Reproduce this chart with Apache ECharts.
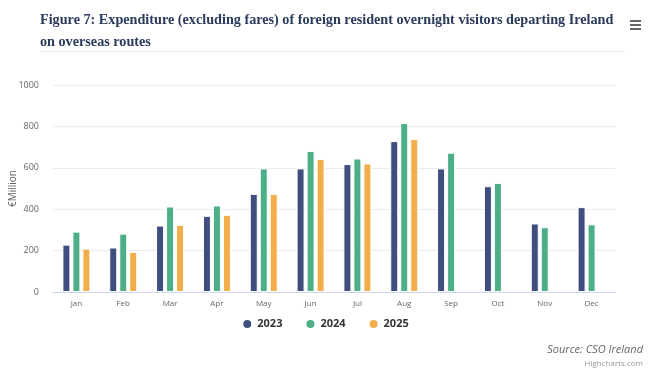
<!DOCTYPE html>
<html>
<head>
<meta charset="utf-8">
<script src="https://cdn.jsdelivr.net/npm/echarts@6/dist/echarts.min.js"></script>
<style>
  body { margin: 0; background: #fff; }
  #chart { width: 650px; height: 375px; }
</style>
</head>
<body>
<div id="chart"></div>
<script>
const months = ['Jan', 'Feb', 'Mar', 'Apr', 'May', 'Jun', 'Jul', 'Aug', 'Sep', 'Oct', 'Nov', 'Dec']
const y2023 = [229, 215, 321, 368, 474, 597, 618, 729, 597, 511, 331, 410]
const y2024 = [292, 282, 413, 418, 597, 681, 645, 816, 673, 527, 313, 327]
const y2025 = [210, 194, 324, 373, 474, 642, 621, 739, null, null, null, null]
const yTicks = [0, 200, 400, 600, 800, 1000]

const colors = ['#3f4e7f', '#4daf88', '#f2ae4a']

function barSeries(name, data, color) {
  return {
    name: name,
    type: 'bar',
    data: data,
    barWidth: 8,
    barGap: '25%',
    itemStyle: { color: color, borderColor: '#fff', borderWidth: 1 }
  }
}

const chart = echarts.init(document.getElementById('chart'))
chart.setOption({
  animation: false,
  title: [
    {
      text: 'Figure 7: Expenditure (excluding fares) of foreign resident overnight visitors departing Ireland\non overseas routes',
      left: 35,
      top: 4,
      textStyle: {
        fontFamily: 'Liberation Serif',
        fontWeight: 'bold',
        fontSize: 14.2,
        lineHeight: 22,
        color: '#2b3b5c'
      }
    },
    {
      text: 'Source: CSO Ireland',
      right: 2,
      top: 339,
      textStyle: { fontFamily: 'Open Sans', fontStyle: 'italic', fontWeight: 'normal', fontSize: 11, color: '#666' }
    },
    {
      text: 'Highcharts.com',
      right: 2,
      top: 355,
      textStyle: { fontFamily: 'Open Sans', fontWeight: 'normal', fontSize: 8, color: '#999' }
    }
  ],
  graphic: [
    { type: 'rect', shape: { x: 40, y: 51, width: 585, height: 1 }, style: { fill: '#e6edf3' } },
    { type: 'rect', shape: { x: 630, y: 20, width: 11, height: 2 }, style: { fill: '#666' } },
    { type: 'rect', shape: { x: 630, y: 24, width: 11, height: 2 }, style: { fill: '#666' } },
    { type: 'rect', shape: { x: 630, y: 28, width: 11, height: 2 }, style: { fill: '#666' } }
  ],
  legend: {
    bottom: 40,
    left: 'center',
    icon: 'circle',
    itemWidth: 10,
    itemHeight: 10,
    itemGap: 22,
    textStyle: { fontFamily: 'Open Sans', fontWeight: 'bold', fontSize: 11, color: '#333' },
    data: ['2023', '2024', '2025']
  },
  grid: { left: 53, right: 35, top: 85, bottom: 83, outerBoundsMode: 'none' },
  xAxis: {
    type: 'category',
    data: months,
    axisTick: { show: false },
    axisLine: { lineStyle: { color: '#ccd6eb' } },
    axisLabel: { fontFamily: 'Open Sans', fontSize: 8, color: '#666', margin: 8 }
  },
  yAxis: {
    type: 'value',
    min: yTicks[0],
    max: yTicks[yTicks.length - 1],
    interval: 200,
    name: '€Million',
    nameLocation: 'middle',
    nameGap: 35,
    nameMoveOverlap: false,
    nameTextStyle: { fontFamily: 'Open Sans', fontSize: 10, color: '#666' },
    axisLabel: { fontFamily: 'Open Sans', fontSize: 9, color: '#666', margin: 14, formatter: v => String(v) },
    splitLine: { lineStyle: { color: '#ececec' } }
  },
  series: [
    barSeries('2023', y2023, colors[0]),
    barSeries('2024', y2024, colors[1]),
    barSeries('2025', y2025, colors[2])
  ]
})
</script>
</body>
</html>
